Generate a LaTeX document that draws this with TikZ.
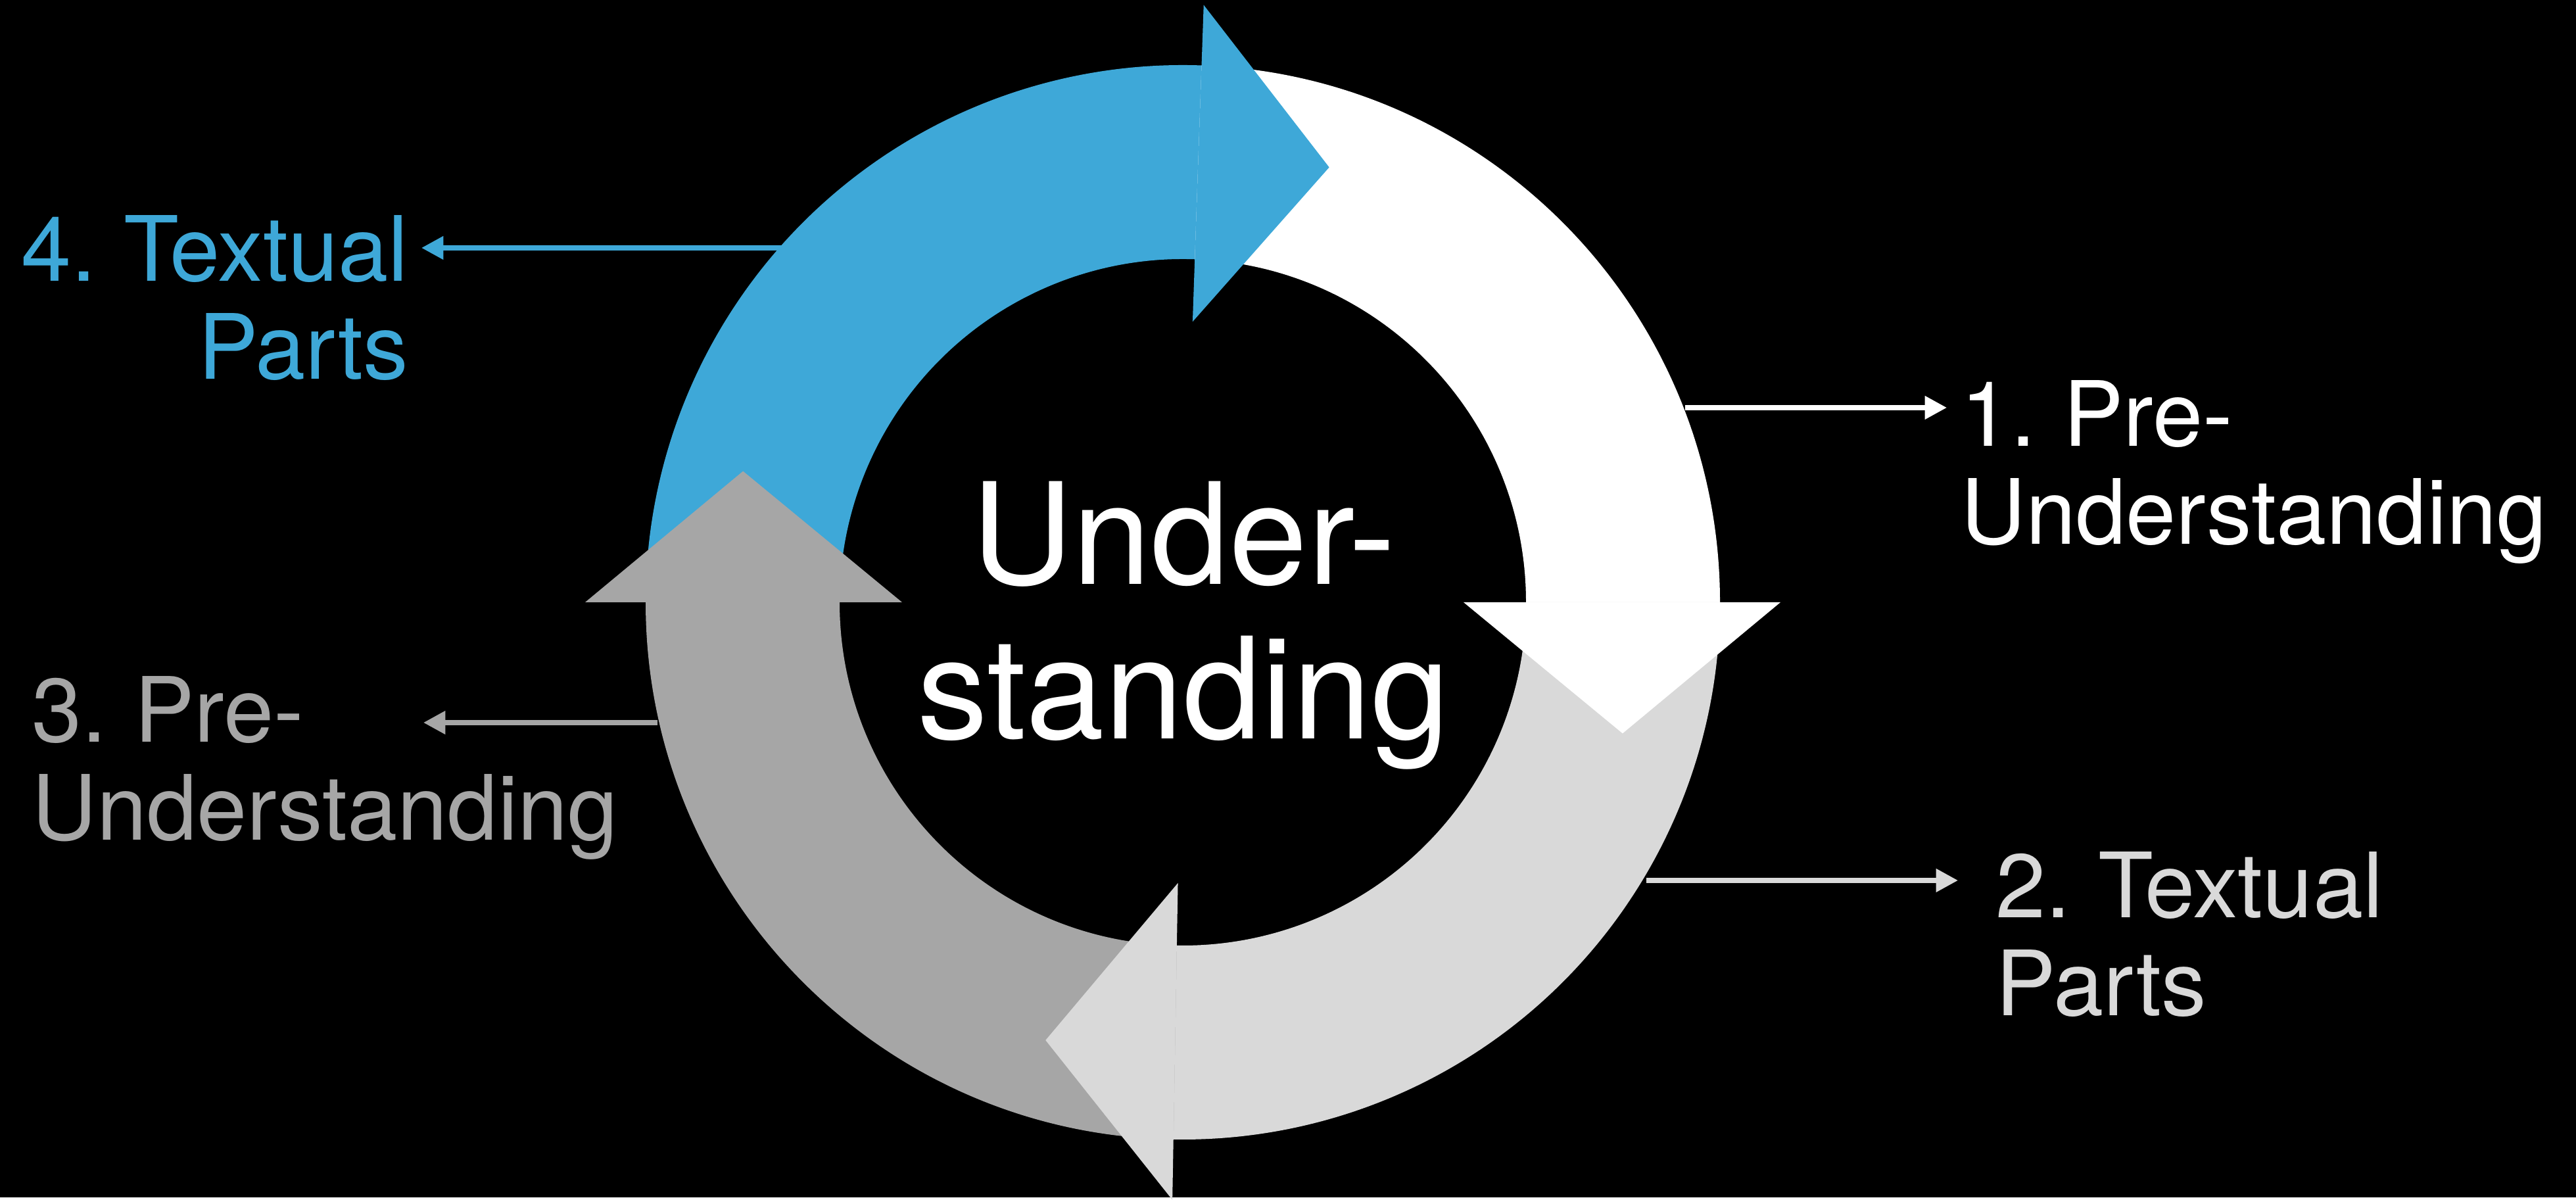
\documentclass[tikz,border=0pt]{standalone}
\usepackage{fontspec}
\setmainfont[WordSpace=0.75]{TeX Gyre Heros}
\usetikzlibrary{arrows.meta,positioning}
\definecolor{cycleblue}{RGB}{62,168,216}
\definecolor{cyclelight}{RGB}{217,217,217}
\definecolor{cyclegray}{RGB}{166,166,166}
\tikzset{
  sidelabel/.style={font=\fontsize{39}{42.3}\selectfont, inner sep=0pt},
  pointer/.style={line width=2.1pt, -{Triangle[length=9.5pt,width=9.7pt]}},
}

\begin{document}
\begin{tikzpicture}[x=0.01cm, y=0.01cm]
\fill[black] (0,0) rectangle (3918,1821);
\begin{scope}[shift={(1799,905)}]
  % ring segments, each running a little under its own head
  \foreach \col/\from/\to in {cycleblue/180/87, white/88/-1, cyclelight/0/-92, cyclegray/-91/-181}
    \fill[\col] (\from:817) arc[start angle=\from, end angle=\to, radius=817]
      -- (\to:522) arc[start angle=\to, end angle=\from, radius=522] -- cycle;
  % heads
  \foreach \col/\base/\tip in {cycleblue/88/71.4, white/0/-16.6, cyclelight/-91/-107.4, cyclegray/-180/-196.6}
    \fill[\col] (\base:427) -- (\base:909) -- (\tip:698) -- cycle;
\end{scope}

\node (centre) at (1800,1090) [anchor=north, align=center, inner sep=0pt, white,
  font=\fontsize{61}{67}\selectfont] {Under-\\standing};

\node (lab1) at (2982,1243) [sidelabel, anchor=north west, align=left, white] {1. Pre-\\Understanding};
\node (lab2) at (3035,526) [sidelabel, anchor=north west, align=left, cyclelight] {2. Textual\\Parts};
\node (lab3) at (48,793) [sidelabel, anchor=north west, align=left, cyclegray] {3. Pre-\\Understanding};
\node (lab4) at (622,1494) [sidelabel, anchor=north east, align=right, cycleblue] {4. Textual\\Parts};

\coordinate (p1s) at (2563,1201); \coordinate (p1e) at (2961,1201);
\coordinate (p2s) at (2504,482);  \coordinate (p2e) at (2978,482);
\coordinate (p3s) at (1000,722);  \coordinate (p3e) at (644,722);
\coordinate (p4s) at (1194,1444); \coordinate (p4e) at (641,1444);
\draw[pointer, white] (p1s) -- (p1e);
\draw[pointer, cyclelight] (p2s) -- (p2e);
\draw[pointer, cyclegray] (p3s) -- (p3e);
\draw[pointer, cycleblue] (p4s) -- (p4e);
\end{tikzpicture}
\end{document}
